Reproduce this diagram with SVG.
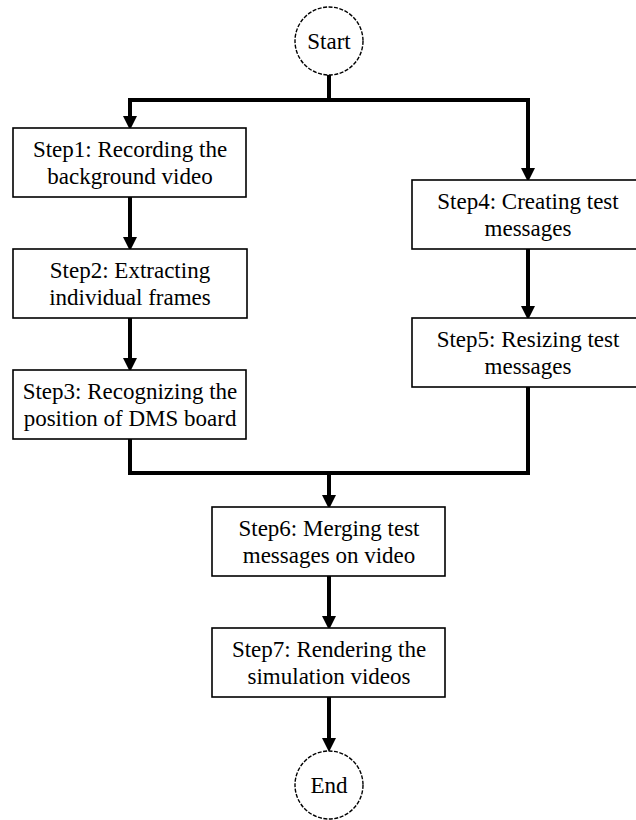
<svg xmlns="http://www.w3.org/2000/svg" width="636" height="820" viewBox="0 0 636 820">
<style>
.box{fill:#fff;stroke:#000;stroke-width:1.6}
.term{fill:#fff;stroke:#000;stroke-width:1.4;stroke-dasharray:4 1.5}
.t{font-family:'Liberation Serif','DejaVu Serif','Times New Roman',serif;font-size:23px;fill:#000;text-anchor:middle}
.c{fill:none;stroke:#000;stroke-width:4}
</style>
<defs>
<marker id="ah" markerUnits="userSpaceOnUse" markerWidth="14" markerHeight="14" refX="0" refY="6" orient="auto" viewBox="0 0 12 12">
<path d="M0,0 L12,6 L0,12 z" fill="#000"/>
</marker>
</defs>
<rect width="636" height="820" fill="#fff"/>
<g id="connectors">
<path class="c" d="M329,75 V100"/>
<path class="c" d="M130,100 H528"/>
<path class="c" d="M130,98 V116" marker-end="url(#ah)"/>
<path class="c" d="M528,98 V168" marker-end="url(#ah)"/>
<path class="c" d="M130,197 V237" marker-end="url(#ah)"/>
<path class="c" d="M130,318 V358" marker-end="url(#ah)"/>
<path class="c" d="M528,249 V306" marker-end="url(#ah)"/>
<path class="c" d="M130,439 V473 H528 V387"/>
<path class="c" d="M329,473 V495" marker-end="url(#ah)"/>
<path class="c" d="M329,576 V616" marker-end="url(#ah)"/>
<path class="c" d="M329,697 V738" marker-end="url(#ah)"/>
</g>
<g id="start">
<circle class="term" cx="329" cy="41" r="34"/>
<text class="t" x="329" y="49" font-family="Liberation Serif, DejaVu Serif, serif">Start</text>
</g>
<g id="step1">
<rect class="box" x="13" y="128" width="233" height="69"/>
<text class="t" x="130" y="157">Step1: Recording the</text>
<text class="t" x="130" y="184">background video</text>
</g>
<g id="step2">
<rect class="box" x="13" y="249" width="234" height="69"/>
<text class="t" x="130" y="278">Step2: Extracting</text>
<text class="t" x="130" y="305">individual frames</text>
</g>
<g id="step3">
<rect class="box" x="13" y="370" width="233" height="69"/>
<text class="t" x="130" y="399">Step3: Recognizing the</text>
<text class="t" x="130" y="426">position of DMS board</text>
</g>
<g id="step4">
<rect class="box" x="412" y="180" width="232" height="69"/>
<text class="t" x="528" y="209">Step4: Creating test</text>
<text class="t" x="528" y="236">messages</text>
</g>
<g id="step5">
<rect class="box" x="412" y="318" width="232" height="69"/>
<text class="t" x="528" y="347">Step5: Resizing test</text>
<text class="t" x="528" y="374">messages</text>
</g>
<g id="step6">
<rect class="box" x="212" y="507" width="233" height="69"/>
<text class="t" x="329" y="536">Step6: Merging test</text>
<text class="t" x="329" y="563">messages on video</text>
</g>
<g id="step7">
<rect class="box" x="212" y="628" width="233" height="69"/>
<text class="t" x="329" y="657">Step7: Rendering the</text>
<text class="t" x="329" y="684">simulation videos</text>
</g>
<g id="end">
<circle class="term" cx="329" cy="785" r="34"/>
<text class="t" x="329" y="793">End</text>
</g>
</svg>
